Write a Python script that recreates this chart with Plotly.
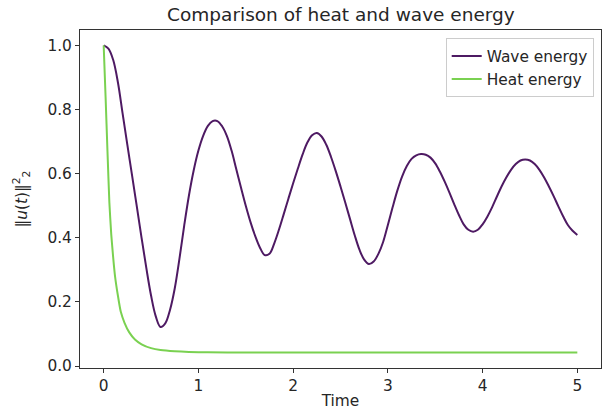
import plotly.graph_objects as go

# Wave energy samples
wave_t = [0.00, 0.05, 0.10, 0.15, 0.20, 0.25, 0.30, 0.35, 0.40, 0.45, 0.50, 0.55, 0.60,
          0.65, 0.70, 0.75, 0.80, 0.85, 0.90, 0.95, 1.00, 1.05, 1.10, 1.15, 1.20,
          1.25, 1.30, 1.35, 1.40, 1.45, 1.50, 1.55, 1.60, 1.65, 1.70, 1.75,
          1.80, 1.85, 1.90, 1.95, 2.00, 2.05, 2.10, 2.15, 2.20, 2.25,
          2.30, 2.35, 2.40, 2.45, 2.50, 2.55, 2.60, 2.65, 2.70, 2.75, 2.80, 2.85,
          2.90, 2.95, 3.00, 3.05, 3.10, 3.15, 3.20, 3.25, 3.30, 3.35, 3.40,
          3.45, 3.50, 3.55, 3.60, 3.65, 3.70, 3.75, 3.80, 3.85, 3.90, 3.95,
          4.00, 4.05, 4.10, 4.15, 4.20, 4.25, 4.30, 4.35, 4.40, 4.45, 4.50,
          4.55, 4.60, 4.65, 4.70, 4.75, 4.80, 4.85, 4.90, 4.95, 5.00]
wave_e = [1.000, 0.990, 0.955, 0.885, 0.787, 0.690, 0.594, 0.497, 0.400, 0.306, 0.220, 0.155, 0.122,
          0.133, 0.175, 0.242, 0.335, 0.438, 0.532, 0.610, 0.672, 0.718, 0.749, 0.764, 0.764,
          0.748, 0.718, 0.672, 0.614, 0.556, 0.500, 0.449, 0.405, 0.369, 0.346, 0.350,
          0.382, 0.425, 0.473, 0.522, 0.570, 0.616, 0.660, 0.697, 0.720, 0.727,
          0.716, 0.690, 0.652, 0.608, 0.560, 0.510, 0.459, 0.408, 0.363, 0.332, 0.318, 0.326,
          0.350, 0.387, 0.440, 0.495, 0.547, 0.591, 0.624, 0.646, 0.657, 0.661, 0.659,
          0.650, 0.632, 0.606, 0.575, 0.541, 0.505, 0.471, 0.442, 0.425, 0.419, 0.425,
          0.442, 0.466, 0.495, 0.528, 0.560, 0.588, 0.612, 0.630, 0.641, 0.644, 0.641,
          0.630, 0.612, 0.588, 0.560, 0.530, 0.498, 0.467, 0.440, 0.422, 0.409]

# Heat energy samples
heat_t = [0.00, 0.02, 0.04, 0.06, 0.08, 0.10, 0.12, 0.15, 0.18, 0.22, 0.27, 0.33, 0.40,
          0.50, 0.60, 0.75, 0.90, 1.10, 1.50, 2.00, 3.00, 4.00, 5.00]
heat_e = [1.000, 0.840, 0.670, 0.510, 0.410, 0.340, 0.280, 0.220, 0.170, 0.135, 0.105, 0.083, 0.068,
          0.056, 0.050, 0.046, 0.044, 0.043, 0.042, 0.042, 0.042, 0.042, 0.042]

x_ticks = [0, 1, 2, 3, 4, 5]
y_ticks = [0.0, 0.2, 0.4, 0.6, 0.8, 1.0]
y_tick_labels = ["0.0", "0.2", "0.4", "0.6", "0.8", "1.0"]

FONT = "DejaVu Sans"
TXT = "#262626"
FS = 15.4

fig = go.Figure()
fig.add_trace(go.Scatter(x=wave_t, y=wave_e, mode="lines", name="Wave energy",
                         line=dict(color="#4e1a63", width=2, shape="spline", smoothing=1.0)))
fig.add_trace(go.Scatter(x=heat_t, y=heat_e, mode="lines", name="Heat energy",
                         line=dict(color="#7ad151", width=2, shape="spline", smoothing=0.5)))

axis_common = dict(showline=True, linecolor="#333333", linewidth=1, mirror=True,
                   ticks="outside", ticklen=4, tickwidth=1, tickcolor="#333333",
                   showgrid=False, zeroline=False, automargin=False,
                   tickfont=dict(family=FONT, size=FS, color=TXT))

fig.update_xaxes(range=[-0.25, 5.25], tickvals=x_ticks,
                 title=dict(text="Time", font=dict(family=FONT, size=FS, color=TXT), standoff=0),
                 **axis_common)
fig.update_yaxes(range=[-0.006, 1.048], tickvals=y_ticks, ticktext=y_tick_labels,
                 title=dict(text="‖<i>u</i>(<i>t</i>)‖<sup>2</sup><sub>2</sub>",
                            font=dict(family=FONT, size=FS, color=TXT), standoff=16),
                 **axis_common)

fig.update_layout(
    width=611, height=417,
    margin=dict(l=80, r=10, t=30, b=49),
    paper_bgcolor="white", plot_bgcolor="white",
    title=dict(text="Comparison of heat and wave energy", x=0.558, xanchor="center",
               y=0.966, yanchor="middle", font=dict(family=FONT, size=18.5, color=TXT)),
    legend=dict(x=0.986, xanchor="right", y=0.975, yanchor="top",
                bordercolor="#cccccc", borderwidth=1, bgcolor="rgba(255,255,255,0.8)",
                font=dict(family=FONT, size=FS, color=TXT)),
    showlegend=True,
)

# remove the default page margin so the figure sits at the window's top-left corner
fig.write_html("out.html",
               config={"displayModeBar": False},
               post_script="document.body.style.margin='0';document.body.style.overflow='hidden';")
